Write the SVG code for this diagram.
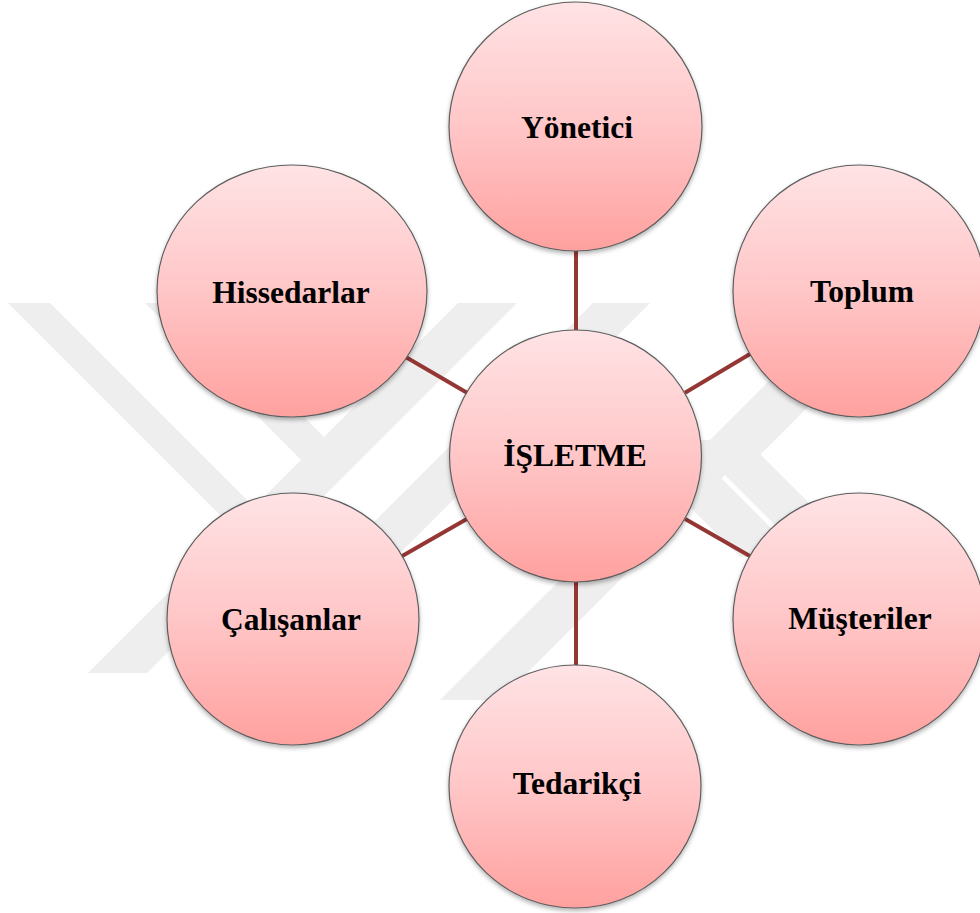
<svg xmlns="http://www.w3.org/2000/svg" width="980" height="913" viewBox="0 0 980 913">
  <defs>
    <linearGradient id="fill" x1="0" y1="0" x2="0" y2="1">
      <stop offset="0" stop-color="#FFE3E5"/>
      <stop offset="0.5" stop-color="#FFC6C7"/>
      <stop offset="1" stop-color="#FFA19F"/>
    </linearGradient>
    <filter id="shadow" x="-10%" y="-10%" width="120%" height="125%">
      <feDropShadow dx="0" dy="2.5" stdDeviation="2" flood-color="#000" flood-opacity="0.3"/>
    </filter>
  </defs>
  <style>
    .node { fill: url(#fill); stroke: #5e5e5e; stroke-width: 1.2; filter: url(#shadow); }
    .label { font-family: "Liberation Serif", "Times New Roman", serif; font-weight: bold; font-size: 31.5px; fill: #000; text-anchor: middle; }
    .conn { stroke: #943634; stroke-width: 4; fill: none; }
    .wm { fill: #EEEEEE; }
  </style>
  <rect width="980" height="913" fill="#FFFFFF"/>
  <g id="watermark">
    <polygon class="wm" points="8,303 50,303 275,528 233,528"/>
    <polygon class="wm" points="145,303 190,303 324,437 301,460"/>
    <polygon class="wm" points="458,303 517,303 147,673 88,673"/>
    <polygon class="wm" points="593,303 650,303 277,676 220,676"/>
    <polygon class="wm" points="440,700 500,700 760,440 700,440"/>
    <polygon class="wm" points="613,430 673,430 800,557 740,557"/>
    <polygon class="wm" points="847,303 912,303 760,455 695,455"/>
    <polygon class="wm" points="700,450 760.5,454.5 846,540 790,540"/>
  </g>
  <g id="connectors">
    <line class="conn" x1="576" y1="250" x2="576" y2="332"/>
    <line class="conn" x1="576" y1="580" x2="576" y2="667"/>
    <line class="conn" x1="467" y1="392.7" x2="404.4" y2="356.3"/>
    <line class="conn" x1="685" y1="392.7" x2="750" y2="354"/>
    <line class="conn" x1="466.8" y1="518.9" x2="402.2" y2="556.1"/>
    <line class="conn" x1="685.2" y1="518.9" x2="749.8" y2="556.1"/>
  </g>
  <g id="node-yonetici">
    <ellipse class="node" cx="575.5" cy="126.5" rx="126.5" ry="124.5"/>
    <text class="label" x="577" y="138">Yönetici</text>
  </g>
  <g id="node-hissedarlar">
    <ellipse class="node" cx="292" cy="291" rx="135" ry="126"/>
    <text class="label" x="291" y="303">Hissedarlar</text>
  </g>
  <g id="node-toplum">
    <ellipse class="node" cx="859" cy="291" rx="126" ry="126"/>
    <text class="label" x="862" y="302">Toplum</text>
  </g>
  <g id="node-isletme">
    <ellipse class="node" cx="575.5" cy="456" rx="126" ry="126"/>
    <text class="label" x="575" y="466">İŞLETME</text>
  </g>
  <g id="node-calisanlar">
    <ellipse class="node" cx="293" cy="619" rx="126" ry="126"/>
    <text class="label" x="291" y="630">Çalışanlar</text>
  </g>
  <g id="node-musteriler">
    <ellipse class="node" cx="859" cy="619" rx="126" ry="126"/>
    <text class="label" x="860" y="629">Müşteriler</text>
  </g>
  <g id="node-tedarikci">
    <ellipse class="node" cx="575" cy="786.5" rx="126" ry="121.5"/>
    <text class="label" x="577" y="794">Tedarikçi</text>
  </g>
</svg>
